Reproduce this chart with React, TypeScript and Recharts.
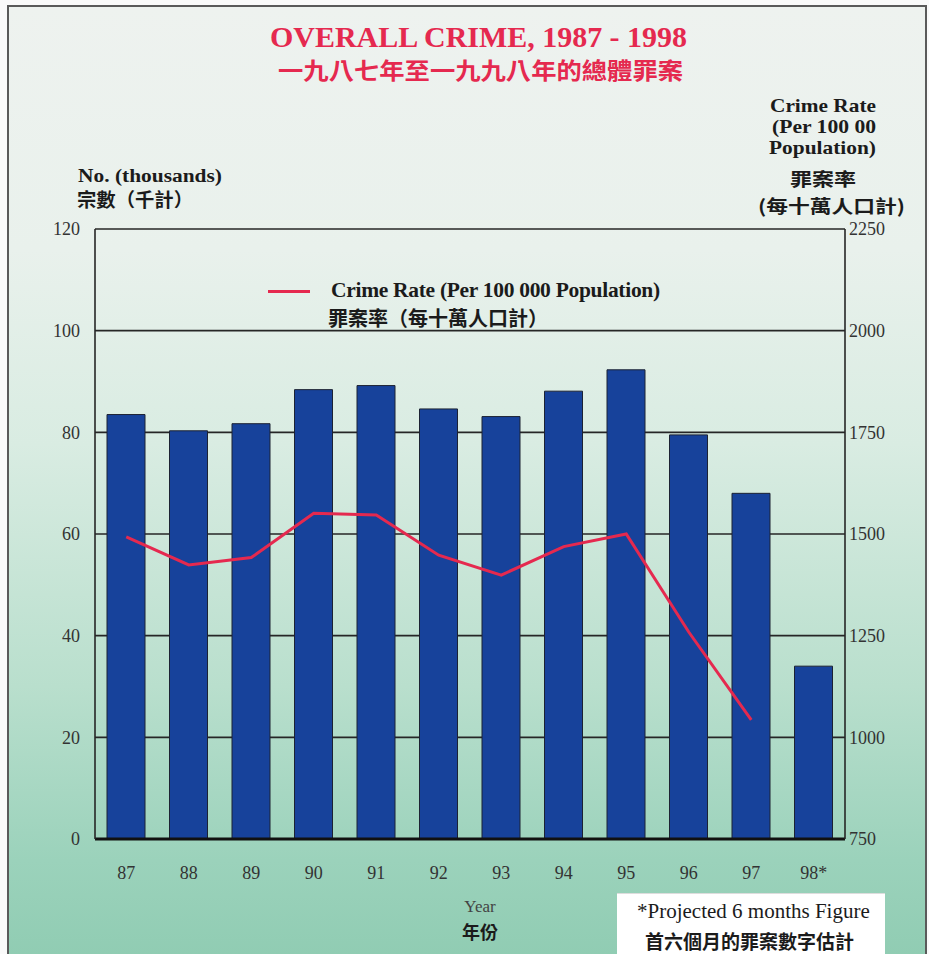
import React from "react";
import {
  ComposedChart,
  Bar,
  Line,
  XAxis,
  YAxis,
  CartesianGrid,
  Legend,
} from "recharts";

// Overall crime, Hong Kong 1987 - 1998
const years = ["87", "88", "89", "90", "91", "92", "93", "94", "95", "96", "97", "98*"];
const casesThousands = [83.5, 80.3, 81.7, 88.4, 89.2, 84.6, 83.1, 88.1, 92.3, 79.5, 68.0, 34.0];
const crimeRate = [1493, 1424, 1442, 1551, 1547, 1448, 1399, 1469, 1500, 1259, 1043, null];

const leftTicks = [0, 20, 40, 60, 80, 100, 120];
const rightTicks = [750, 1000, 1250, 1500, 1750, 2000, 2250];

const data = years.map((year, i) => ({
  year,
  cases: casesThousands[i],
  rate: crimeRate[i],
}));

const SERIF = '"Liberation Serif", "Times New Roman", serif';
const CJK = '"Noto Sans CJK TC", "Noto Sans CJK SC", sans-serif';
const RED = "#e5294f";
const INK = "#1b1b1b";

const tickStyle = { fontFamily: SERIF, fontSize: 18, fill: "#333" };

const LegendBox = (props: any) => {
  const items = (props.payload || []).filter((p: any) => p.dataKey === "rate");
  return (
    <div>
      {items.map((item: any) => (
        <div key={item.dataKey} style={{ position: "relative", height: 52 }}>
          <div
            style={{
              position: "absolute",
              left: 0,
              top: 11,
              width: 42,
              height: 2.5,
              background: item.color,
            }}
          />
          <div
            style={{
              position: "absolute",
              left: 63,
              top: -1,
              fontFamily: SERIF,
              fontWeight: 700,
              fontSize: 21.5,
              color: INK,
              whiteSpace: "nowrap",
              letterSpacing: -0.3,
            }}
          >
            {item.value}
          </div>
          <div
            style={{
              position: "absolute",
              left: 60,
              top: 24,
              fontFamily: CJK,
              fontWeight: 700,
              fontSize: 20,
              color: INK,
              whiteSpace: "nowrap",
            }}
          >
            罪案率（每十萬人口計）
          </div>
        </div>
      ))}
    </div>
  );
};

export default function App() {
  return (
    <div
      style={{
        position: "absolute",
        left: 0,
        top: 0,
        width: 929,
        height: 954,
        overflow: "hidden",
        background: "#fafafa",
      }}
    >
      <div
        style={{
          position: "absolute",
          left: 7,
          top: 5,
          width: 916,
          height: 970,
          border: "2px solid #5a5a5a",
          background:
            "linear-gradient(to bottom, #eef2ef 0%, #e9f1ec 25%, #d9ece2 45%, #b9dfcd 70%, #9bd2bb 88%, #8ecbb1 100%)",
        }}
      />

      <ComposedChart
        width={929}
        height={954}
        data={data}
        margin={{ top: 229, right: 24, bottom: 65, left: 35 }}
        style={{ position: "absolute", left: 0, top: 0 }}
      >
        <CartesianGrid
          yAxisId="left"
          vertical={false}
          stroke="#262626"
          strokeWidth={1.6}
        />
        <XAxis
          dataKey="year"
          height={50}
          tickSize={0}
          tickMargin={27}
          tick={tickStyle}
          axisLine={{ stroke: "#111", strokeWidth: 3 }}
          tickLine={false}
        />
        <YAxis
          yAxisId="left"
          orientation="left"
          width={60}
          domain={[0, 120]}
          ticks={leftTicks}
          interval={0}
          tickSize={0}
          tickMargin={15}
          tick={tickStyle}
          axisLine={{ stroke: "#262626", strokeWidth: 1.6 }}
          tickLine={false}
        />
        <YAxis
          yAxisId="right"
          orientation="right"
          width={60}
          domain={[750, 2250]}
          ticks={rightTicks}
          interval={0}
          tickSize={0}
          tickMargin={4}
          tick={tickStyle}
          axisLine={{ stroke: "#262626", strokeWidth: 1.6 }}
          tickLine={false}
        />
        <Bar
          yAxisId="left"
          dataKey="cases"
          name="No. (thousands)"
          barSize={38}
          fill="#17429b"
          stroke="#1c2233"
          strokeWidth={1}
          legendType="none"
          isAnimationActive={false}
        />
        <Line
          yAxisId="right"
          dataKey="rate"
          name="Crime Rate (Per 100 000 Population)"
          type="linear"
          stroke={RED}
          strokeWidth={3}
          dot={false}
          activeDot={false}
          connectNulls={false}
          isAnimationActive={false}
        />
        <Legend
          verticalAlign="middle"
          align="center"
          content={<LegendBox />}
          wrapperStyle={{ position: "absolute", left: 268, top: 279, width: 420, height: 52, bottom: "auto" }}
        />
      </ComposedChart>

      <svg
        width={929}
        height={954}
        style={{ position: "absolute", left: 0, top: 0, pointerEvents: "none" }}
      >
        <text
          x={270}
          y={47}
          fill={RED}
          fontFamily={SERIF}
          fontWeight={700}
          fontSize={30}
          textLength={417}
          lengthAdjust="spacingAndGlyphs"
        >
          OVERALL CRIME, 1987 - 1998
        </text>
        <text
          x={278}
          y={79}
          fill={RED}
          fontFamily={CJK}
          fontWeight={700}
          fontSize={23}
          textLength={405}
          lengthAdjust="spacingAndGlyphs"
        >
          一九八七年至一九九八年的總體罪案
        </text>

        <text x={78} y={182} fill={INK} fontFamily={SERIF} fontWeight={700} fontSize={18} textLength={144} lengthAdjust="spacingAndGlyphs">
          No. (thousands)
        </text>
        <text x={77} y={207} fill={INK} fontFamily={CJK} fontWeight={700} fontSize={19} textLength={116} lengthAdjust="spacingAndGlyphs">
          宗數（千計）
        </text>

        <g fill={INK} fontFamily={SERIF} fontWeight={700} fontSize={19}>
          <text x={770} y={112} textLength={106} lengthAdjust="spacingAndGlyphs">Crime Rate</text>
          <text x={772} y={133} textLength={104} lengthAdjust="spacingAndGlyphs">(Per 100 00</text>
          <text x={769} y={154} textLength={107} lengthAdjust="spacingAndGlyphs">Population)</text>
        </g>
        <g fill={INK} fontFamily={CJK} fontWeight={700} fontSize={18}>
          <text x={790} y={186} textLength={66} lengthAdjust="spacingAndGlyphs">罪案率</text>
          <text x={758} y={213} textLength={147} lengthAdjust="spacingAndGlyphs">(每十萬人口計)</text>
        </g>

        <text x={480} y={912} fill="#444" fontFamily={SERIF} fontSize={17} textAnchor="middle">
          Year
        </text>
        <text x={480} y={939} fill={INK} fontFamily={CJK} fontWeight={700} fontSize={18} textAnchor="middle">
          年份
        </text>
      </svg>

      <div
        style={{
          position: "absolute",
          left: 617,
          top: 893,
          width: 268,
          height: 70,
          background: "#fff",
          borderTop: "1px solid #ddd",
        }}
      >
        <div
          style={{
            position: "absolute",
            left: 20,
            top: 5,
            fontFamily: SERIF,
            fontSize: 21,
            color: INK,
            whiteSpace: "nowrap",
          }}
        >
          *Projected 6 months Figure
        </div>
        <div
          style={{
            position: "absolute",
            left: 28,
            top: 33,
            fontFamily: CJK,
            fontWeight: 700,
            fontSize: 19,
            color: INK,
            whiteSpace: "nowrap",
          }}
        >
          首六個月的罪案數字估計
        </div>
      </div>
    </div>
  );
}
